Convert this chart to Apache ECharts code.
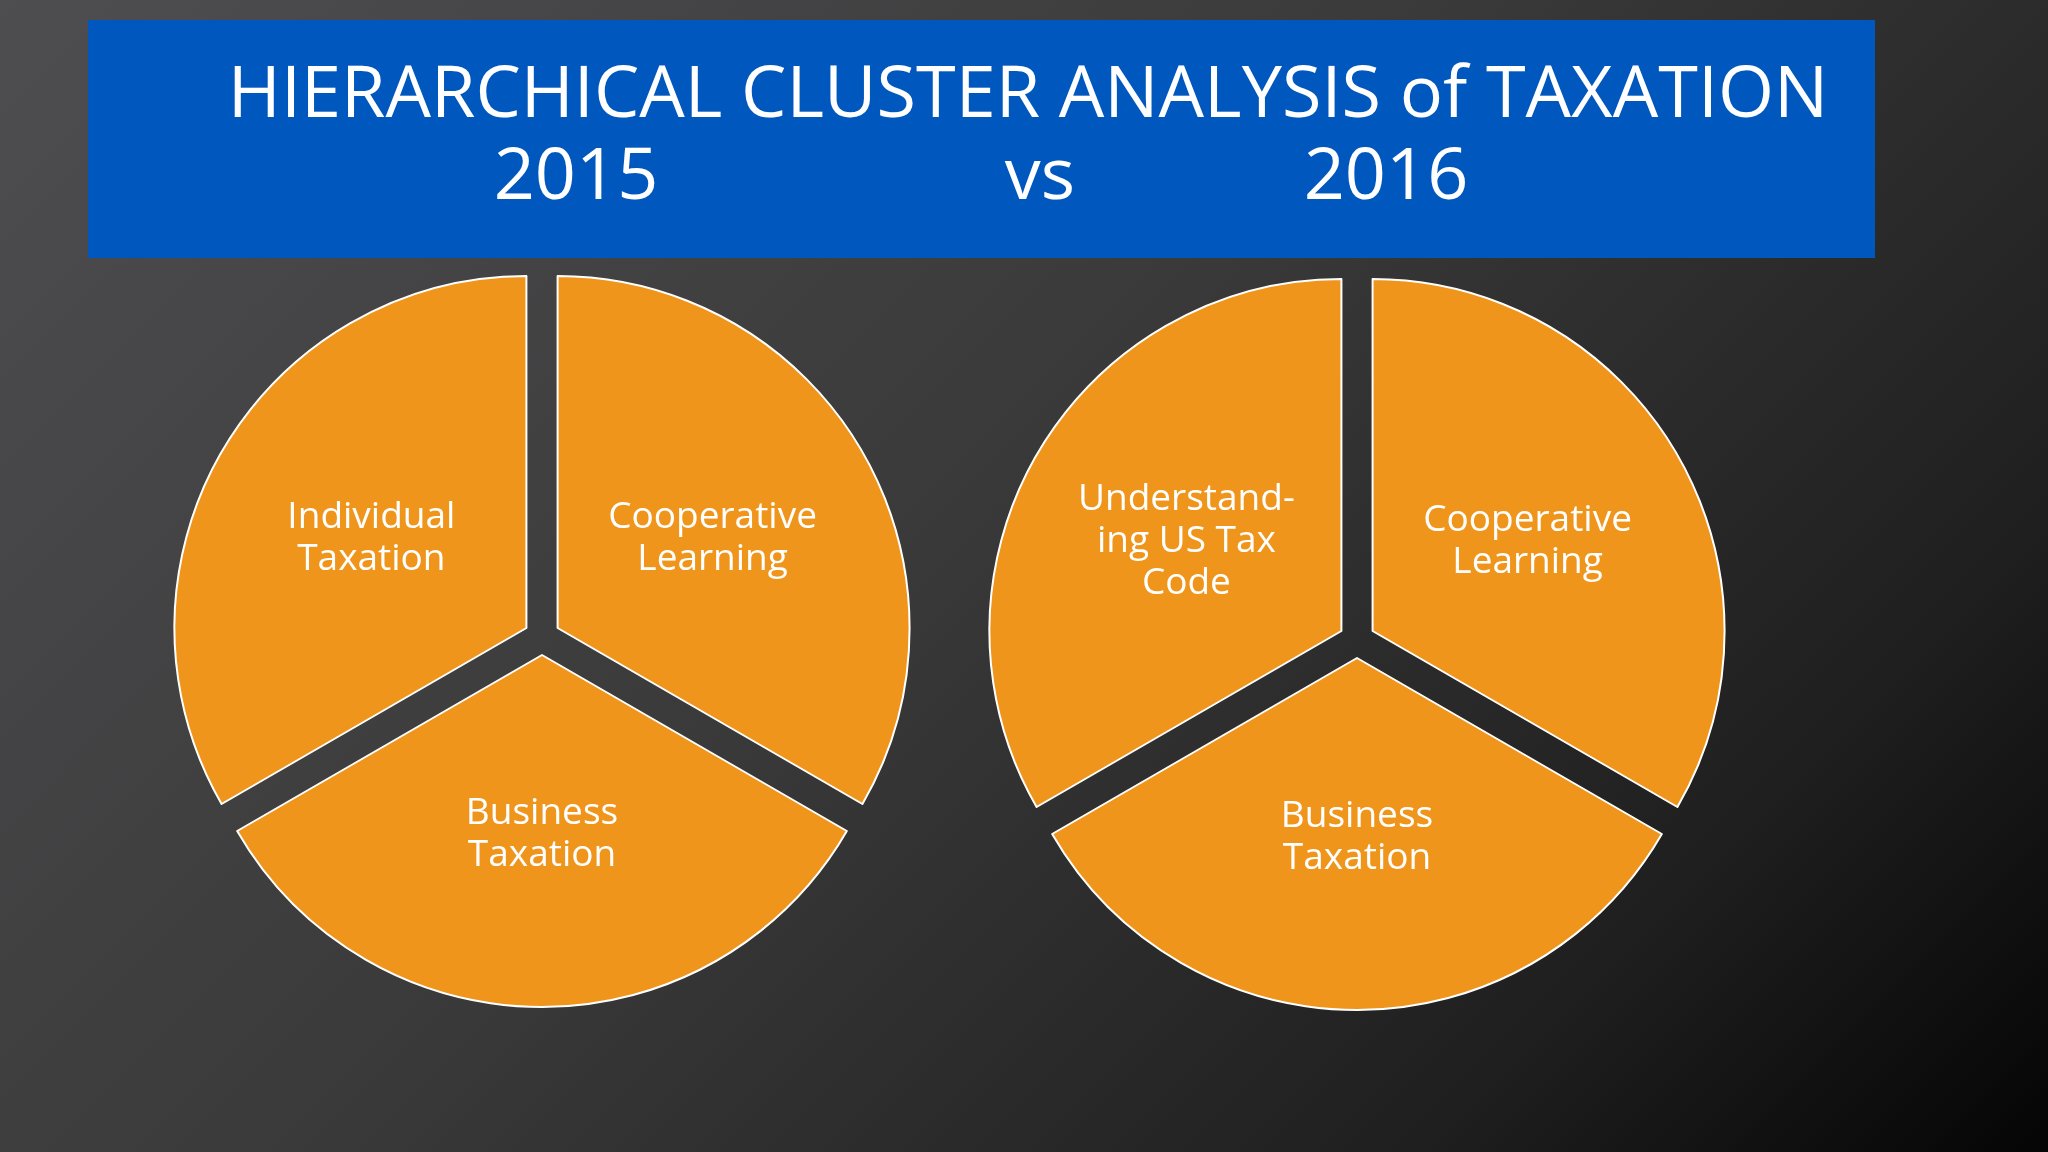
<!DOCTYPE html>
<html>
<head>
<meta charset="utf-8">
<script src="https://cdn.jsdelivr.net/npm/echarts@6/dist/echarts.min.js"></script>
<style>
html,body{margin:0;padding:0;width:2048px;height:1152px;overflow:hidden;
  background:linear-gradient(135deg,#4e4e50 0%,#3a3a3b 45%,#1f1f1f 80%,#050505 100%);}
#main{width:2048px;height:1152px;}
</style>
</head>
<body>
<div id="main"></div>
<script>
// slice names for each year, clockwise from 12 o'clock
var names2015 = ['Cooperative\nLearning', 'Business\nTaxation', 'Individual\nTaxation'];
var names2016 = ['Cooperative\nLearning', 'Business\nTaxation', 'Understand-\ning US Tax\nCode'];
var values2015 = [1, 1, 1];
var values2016 = [1, 1, 1];
var titleLine = 'HIERARCHICAL CLUSTER ANALYSIS of TAXATION';

var myChart = echarts.init(document.getElementById('main'));

function toData(names, vals){
    return names.map(function(n, i){ return {name: n, value: vals[i], selected: true}; });
}
function pie(center, names, vals){
    return {
        type: 'pie',
        center: center,
        radius: ['0%', 352],
        startAngle: 90,
        selectedMode: 'multiple',
        selectedOffset: 18,
        silent: true,
        animation: false,
        itemStyle: {color: '#ef951c', borderColor: '#ffffff', borderWidth: 2},
        label: {position: 'inner', color: '#ffffff', fontFamily: 'Open Sans', fontSize: 37, lineHeight: 42},
        labelLine: {show: false},
        data: toData(names, vals)
    };
}

var option = {
    backgroundColor: 'transparent',
    graphic: [
        {type: 'rect', shape: {x: 88, y: 20, width: 1787, height: 238}, style: {fill: '#0057bd'}},
        {type: 'text', x: 1028, y: 96, style: {text: titleLine, fill: '#fff', font: '72px "Open Sans"', align: 'center', verticalAlign: 'middle'}},
        {type: 'text', x: 576, y: 178, style: {text: '2015', fill: '#fff', font: '72px "Open Sans"', align: 'center', verticalAlign: 'middle'}},
        {type: 'text', x: 1040, y: 178, style: {text: 'vs', fill: '#fff', font: '72px "Open Sans"', align: 'center', verticalAlign: 'middle'}},
        {type: 'text', x: 1386, y: 178, style: {text: '2016', fill: '#fff', font: '72px "Open Sans"', align: 'center', verticalAlign: 'middle'}}
    ],
    series: [
        pie([542, 637], names2015, values2015),
        pie([1357, 640], names2016, values2016)
    ]
};
myChart.setOption(option);
</script>
</body>
</html>
